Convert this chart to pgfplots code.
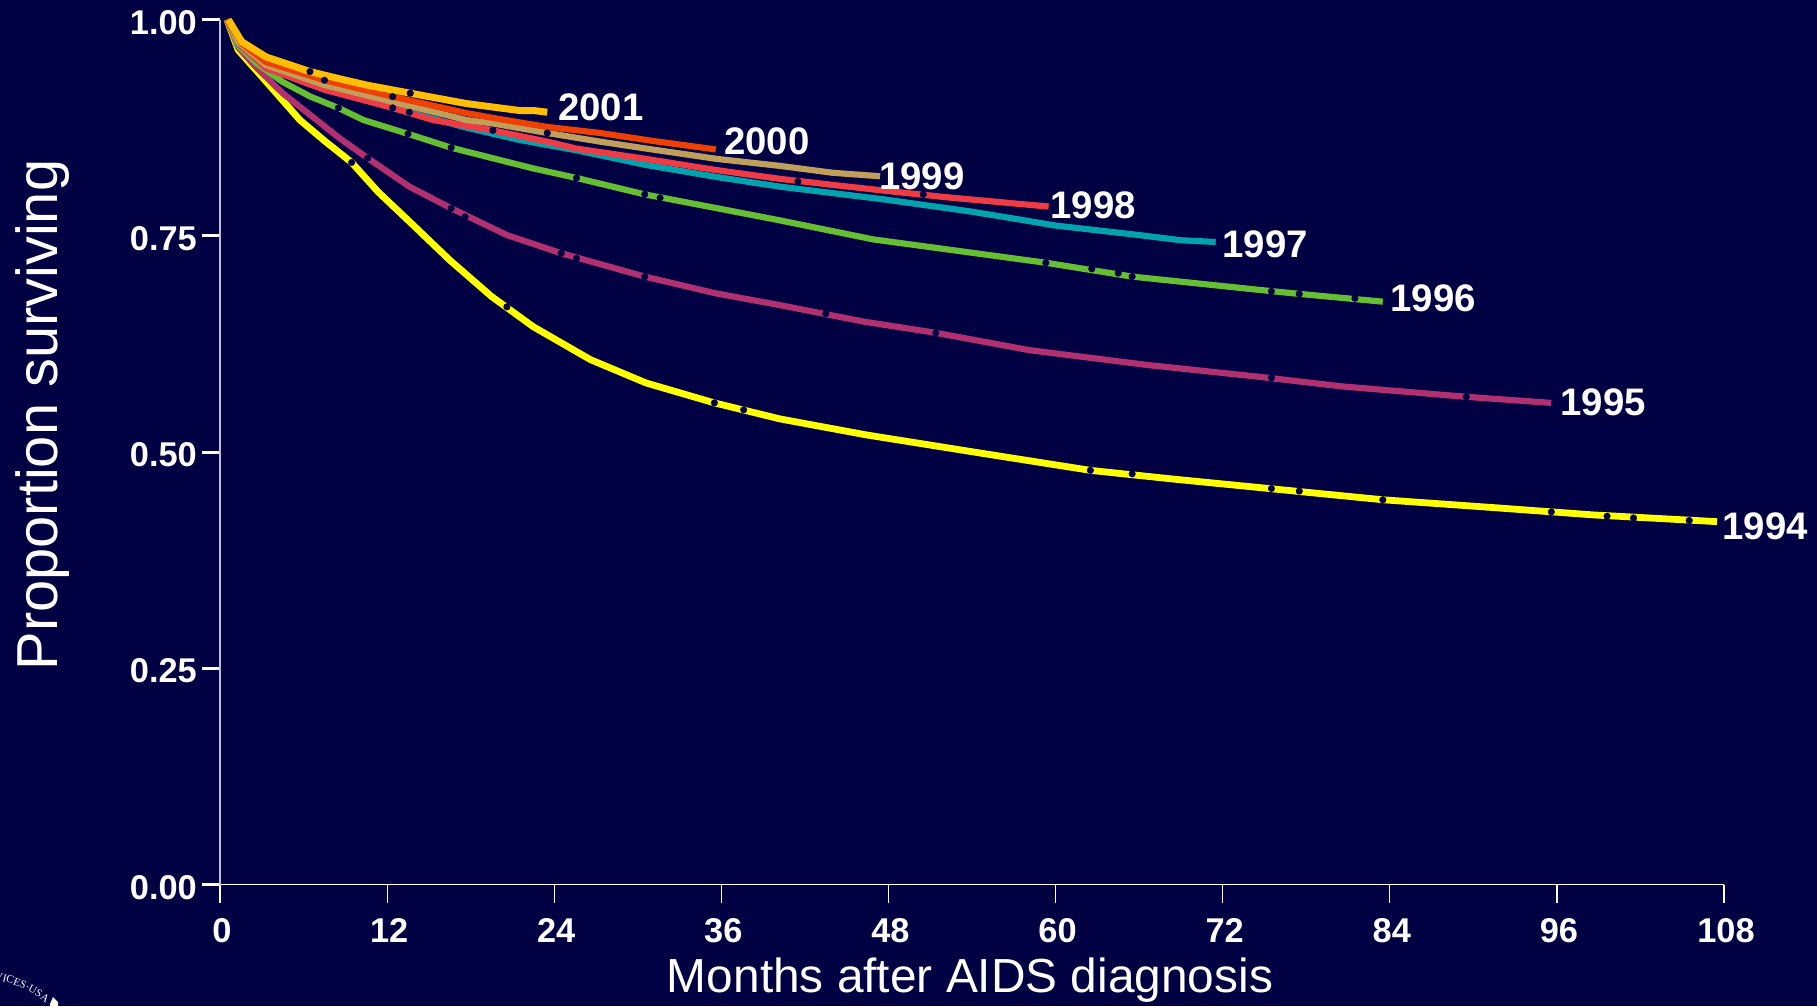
\documentclass[border=0pt]{standalone}
\usepackage{pgfplots}
\pgfplotsset{compat=1.18}
\usepackage{fontspec}
\setmainfont{Liberation Sans}
\newfontfamily\sealfont{Liberation Serif}
\usetikzlibrary{decorations.text}
\definecolor{bg}{RGB}{0,0,66}
\definecolor{axisgrey}{RGB}{190,190,215}
\definecolor{c94}{RGB}{255,255,0}
\definecolor{c95}{RGB}{176,48,112}
\definecolor{c96}{RGB}{102,191,51}
\definecolor{c97}{RGB}{0,163,173}
\definecolor{c98}{RGB}{238,59,68}
\definecolor{c99}{RGB}{192,159,90}
\definecolor{c00}{RGB}{238,64,0}
\definecolor{c01}{RGB}{255,191,0}
\begin{document}
\begin{tikzpicture}[x=1bp,y=1bp]
\path[use as bounding box,fill=bg] (0,0) rectangle (1817,1006);
\begin{axis}[
  at={(220bp,121.3bp)}, anchor=south west,
  scale only axis, width=1504bp, height=865bp,
  xmin=0, xmax=108, ymin=0, ymax=1,
  axis x line*=bottom, axis y line*=left,
  x axis line style={white,line width=1.2bp,-},
  y axis line style={axisgrey,line width=1.2bp,-},
  xtick={0,12,...,108}, ytick={0,0.25,0.5,0.75,1},
  tick align=outside, major tick length=18bp,
  xtick style={white,line width=1.2bp},
  ytick style={white,line width=3bp},
  tick label style={white,font=\fontsize{34.5}{37}\selectfont\bfseries},
  /pgf/number format/assume math mode=true,
  yticklabel style={/pgf/number format/fixed,/pgf/number format/fixed zerofill,/pgf/number format/precision=2,inner sep=0pt,xshift=-5bp,yshift=-2.5bp},
  xticklabel style={inner sep=0pt,yshift=-16bp,xshift=2bp,/pgf/number format/fixed},
  every axis plot/.append style={no marks,line width=6.2bp,line join=round},
  clip=false,
]
\addplot[c94,line width=6.8bp] coordinates {(0.5,1) (1.3,.965) (3.5,.925) (5.74,.884) (7.5,.860) (9.45,.835) (11.35,.801) (14.1,.759) (16.5,.722) (19.5,.680) (22.5,.645) (26.6,.607) (30.6,.580) (35.5,.557) (40.2,.5385) (46.4,.520) (54.6,.499) (62.5,.479) (68.4,.469) (74.7,.459) (83.5,.445) (91.4,.436) (98.6,.4275) (107.5,.4197)};
\addplot[c95] coordinates {(0.5,1) (1.3,.968) (2.6,.945) (4.5,.915) (6.94,.884) (8.5,.864) (10.6,.840) (13.6,.807) (16.6,.782) (20.6,.751) (24.5,.730) (30.5,.703) (35.5,.684) (40.2,.670) (46.2,.651) (51.4,.638) (58.1,.618) (66.5,.601) (74.7,.587) (80.6,.576) (89.5,.564) (95.6,.557)};
\addplot[c96] coordinates {(0.5,1) (1.3,.970) (2.6,.950) (4.5,.928) (6.5,.911) (8.5,.898) (10.3,.884) (13.5,.868) (16.6,.852) (22.5,.828) (25.6,.817) (30.5,.798) (35.7,.782) (40.2,.768) (46.9,.746) (59.3,.719) (65.5,.703) (74.7,.6875) (77.5,.683) (83.5,.674)};
\addplot[c97] coordinates {(0.5,1) (1.3,.972) (3.3,.945) (6.5,.925) (9,.914) (12,.900) (17.5,.876) (21.5,.861) (25.6,.849) (30.6,.832) (35.7,.818) (40.2,.807) (47.8,.792) (54,.778) (57.4,.769) (60,.762) (66,.751) (69,.745) (71.5,.743)};
\addplot[c98] coordinates {(0.5,1) (1.3,.973) (3.3,.944) (7.5,.919) (12.4,.898) (15.3,.884) (19.6,.872) (23.5,.859) (25.6,.851) (30.6,.839) (35.7,.826) (40.2,.816) (44,.809) (47.9,.802) (52,.795) (57.4,.787) (59.5,.784)};
\addplot[c99] coordinates {(0.5,1) (1.3,.974) (3.3,.9475) (7.5,.9245) (12.4,.905) (17.7,.884) (19.6,.880) (23.5,.869) (27.3,.859) (30.6,.851) (35.7,.839) (40.2,.831) (44,.823) (47.4,.819)};
\addplot[c00] coordinates {(0.5,1) (1.56,.9725) (3.3,.951) (7.5,.930) (12.4,.911) (17.7,.892) (20.1,.885) (23.5,.876) (27.3,.869) (31,.860) (35.6,.850)};
\addplot[c01,line width=7bp] coordinates {(0.6,1) (1.56,.9745) (3.3,.957) (6.46,.940) (8.5,.932) (10.5,.9245) (13.66,.915) (17.7,.903) (21.5,.895) (22.5,.895) (23.5,.893)};
% censoring ticks on the curves
\addplot[only marks,mark=|,mark size=3.3bp,bg,mark options={line width=.4bp}] coordinates {
 (9.45,.835) (20.6,.668) (35.5,.557) (37.6,.549) (62.5,.479) (65.5,.475) (75.5,.458) (77.5,.455) (83.5,.445) (95.6,.431) (99.6,.426) (101.5,.424) (105.5,.421)
 (10.6,.840) (16.6,.782) (17.6,.772) (24.5,.730) (25.6,.724) (30.5,.703) (43.5,.660) (51.4,.638) (75.5,.586) (89.5,.564)
 (8.5,.898) (13.5,.868) (16.6,.852) (25.6,.817) (30.5,.798) (31.6,.794) (59.3,.719) (62.6,.712) (64.5,.707) (65.5,.703) (75.5,.686) (77.5,.683) (81.5,.678)
 (12.4,.898) (13.6,.893) (19.6,.872) (41.5,.813) (50.5,.798)
 (23.5,.869) (7.5,.930) (12.4,.911) (6.46,.940) (13.66,.915)
};
\end{axis}
\foreach \t/\x/\y in {2001/601/899,2000/767/865,1999/922/830,1998/1093/801,1997/1265/761.5,1996/1433/708,1995/1603/604,1994/1765/480}
  \node[white,font=\fontsize{38.5}{40}\selectfont\bfseries,inner sep=0pt] at (\x,\y) {\t};
\node[white,font=\fontsize{48}{50}\selectfont,inner sep=0pt] at (970,26) {Months after AIDS diagnosis};
\node[white,font=\fontsize{58}{60}\selectfont,inner sep=0pt,rotate=90] at (43,591) {Proportion surviving};
\path[postaction={decorate,decoration={text along path,text align=left,
  text={|\sealfont\fontsize{11}{12}\selectfont\color{white}|RVICES·USA}}}]
  (-13,27) .. controls (8,26) and (30,16) .. (46,3) -- (60,-8);
\fill[white] (50,2) -- (53,9) -- (58,4) -- (58,0) -- (50,0) -- cycle;
\end{tikzpicture}
\end{document}
